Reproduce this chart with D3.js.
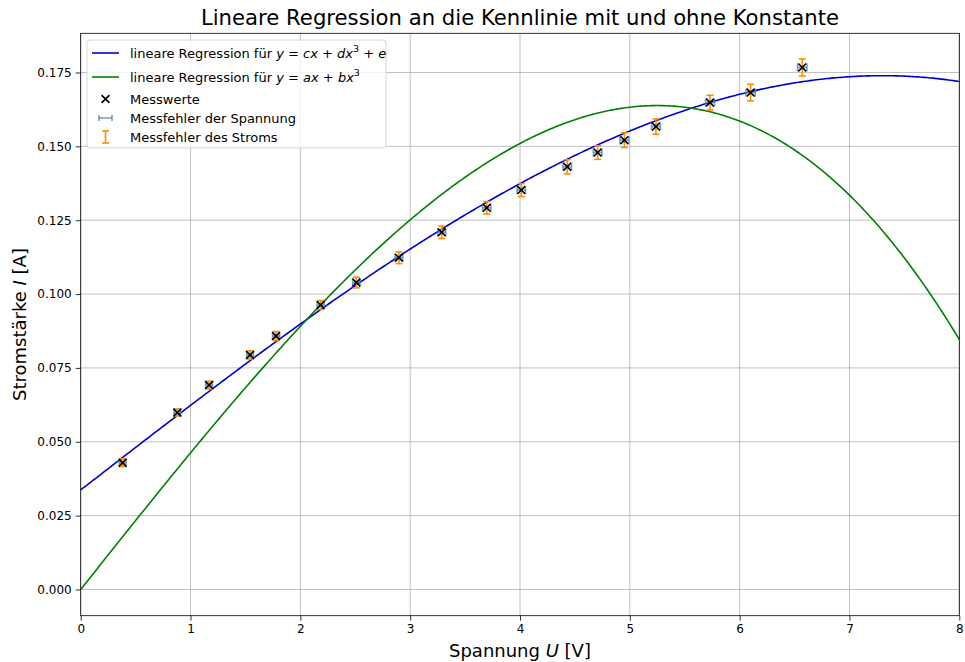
<!DOCTYPE html>
<meta charset="utf-8">
<style>
  body { margin: 0; background: #fff; }
  text { font-family: "DejaVu Sans", sans-serif; fill: #000; }
  .grid line { stroke: #b0b0b0; stroke-width: 0.8; }
</style>
<svg width="965" height="662"></svg>
<script src="https://d3js.org/d3.v7.min.js"></script>
<script>
// measured values: voltage U [V], current I [A], and their errors
var spannung = [0.382, 0.880, 1.169, 1.542, 1.779, 2.185, 2.510, 2.898, 3.287, 3.697,
                4.012, 4.430, 4.707, 4.950, 5.238, 5.730, 6.100, 6.570];
var strom    = [0.0429, 0.0599, 0.0692, 0.0794, 0.0858, 0.0963, 0.1039, 0.1123, 0.1209, 0.1292,
                0.1352, 0.1431, 0.1479, 0.1521, 0.1567, 0.1648, 0.1682, 0.1767];
var fehlerU  = [0.030, 0.030, 0.031, 0.032, 0.032, 0.033, 0.034, 0.035, 0.036, 0.037,
                0.038, 0.039, 0.039, 0.040, 0.040, 0.041, 0.042, 0.043];
var fehlerI  = [0.0013, 0.0012, 0.0013, 0.0014, 0.0015, 0.0015, 0.0018, 0.0020, 0.0021, 0.0021,
                0.0022, 0.0024, 0.0023, 0.0025, 0.0026, 0.0025, 0.0028, 0.0029];

// fit parameters
var fitMitKonstante = { c: 0.0288, d: -0.000180, e: 0.0337 };   // y = cx + dx^3 + e
var fitOhneKonstante = { a: 0.0468, b: -0.000566 };            // y = ax + bx^3

var xTicks = [0, 1, 2, 3, 4, 5, 6, 7, 8];
var yTicks = [0, 0.025, 0.05, 0.075, 0.1, 0.125, 0.15, 0.175];

var svg = d3.select("svg");
var pLeft = 80.7, pRight = 959.3, pTop = 33.3, pBottom = 615.7;

var x = d3.scaleLinear().domain([0, 8]).range([pLeft, pRight]);
var y = d3.scaleLinear().domain([-0.00887, 0.18826]).range([pBottom, pTop]);

// grid
var grid = svg.append("g").attr("class", "grid");
grid.selectAll(".gx").data(xTicks).enter().append("line")
    .attr("x1", d => x(d)).attr("x2", d => x(d)).attr("y1", pTop).attr("y2", pBottom);
grid.selectAll(".gy").data(yTicks).enter().append("line")
    .attr("y1", d => y(d)).attr("y2", d => y(d)).attr("x1", pLeft).attr("x2", pRight);

// axes
var xAxis = svg.append("g").attr("transform", "translate(0," + pBottom + ")")
    .call(d3.axisBottom(x).tickValues(xTicks).tickFormat(d3.format("d")).tickSizeOuter(0).tickSize(5).tickPadding(4));
var yAxis = svg.append("g").attr("transform", "translate(" + pLeft + ",0)")
    .call(d3.axisLeft(y).tickValues(yTicks).tickFormat(d3.format(".3f")).tickSizeOuter(0).tickSize(5).tickPadding(4));
[xAxis, yAxis].forEach(function(a) {
  a.attr("font-family", null).attr("font-size", null);
  a.selectAll("text").style("font-family", "DejaVu Sans").style("font-size", "12px");
  a.select(".domain").remove();
  a.selectAll("line").attr("stroke", "#000").attr("stroke-width", 0.8);
});

// curves
var xs = d3.range(0, 8.0001, 0.02);
var line = d3.line().x(d => x(d[0])).y(d => y(d[1]));
svg.append("clipPath").attr("id", "clip").append("rect")
    .attr("x", pLeft).attr("y", pTop).attr("width", pRight - pLeft).attr("height", pBottom - pTop);

svg.append("path")
    .datum(xs.map(v => [v, fitMitKonstante.c * v + fitMitKonstante.d * v * v * v + fitMitKonstante.e]))
    .attr("d", line).attr("fill", "none").attr("stroke", "#0000cd").attr("stroke-width", 1.6)
    .attr("clip-path", "url(#clip)");
svg.append("path")
    .datum(xs.map(v => [v, fitOhneKonstante.a * v + fitOhneKonstante.b * v * v * v]))
    .attr("d", line).attr("fill", "none").attr("stroke", "#008000").attr("stroke-width", 1.6)
    .attr("clip-path", "url(#clip)");

var punkte = spannung.map((u, i) => ({ u: u, i: strom[i], du: fehlerU[i], di: fehlerI[i] }));

// voltage error bars
var eu = svg.append("g").attr("stroke", "#4682b4").attr("stroke-opacity", 0.75).attr("stroke-width", 1.6);
punkte.forEach(function(p) {
  eu.append("line").attr("x1", x(p.u - p.du)).attr("x2", x(p.u + p.du)).attr("y1", y(p.i)).attr("y2", y(p.i));
  eu.append("line").attr("x1", x(p.u - p.du)).attr("x2", x(p.u - p.du)).attr("y1", y(p.i) - 4).attr("y2", y(p.i) + 4);
  eu.append("line").attr("x1", x(p.u + p.du)).attr("x2", x(p.u + p.du)).attr("y1", y(p.i) - 4).attr("y2", y(p.i) + 4);
});

// current error bars
var ei = svg.append("g").attr("stroke", "#ff8c00").attr("stroke-width", 1.6);
punkte.forEach(function(p) {
  ei.append("line").attr("x1", x(p.u)).attr("x2", x(p.u)).attr("y1", y(p.i - p.di)).attr("y2", y(p.i + p.di));
  ei.append("line").attr("x1", x(p.u) - 3.5).attr("x2", x(p.u) + 3.5).attr("y1", y(p.i - p.di)).attr("y2", y(p.i - p.di));
  ei.append("line").attr("x1", x(p.u) - 3.5).attr("x2", x(p.u) + 3.5).attr("y1", y(p.i + p.di)).attr("y2", y(p.i + p.di));
});

// markers
var kreuz = d3.symbol().type(d3.symbolX).size(42);
svg.append("g").selectAll("path").data(punkte).enter().append("path")
    .attr("d", kreuz)
    .attr("transform", d => "translate(" + x(d.u) + "," + y(d.i) + ")")
    .attr("fill", "none").attr("stroke", "#000").attr("stroke-width", 1.6);

// frame
svg.append("rect").attr("x", pLeft).attr("y", pTop).attr("width", pRight - pLeft).attr("height", pBottom - pTop)
    .attr("fill", "none").attr("stroke", "#000").attr("stroke-width", 0.8);

// title and labels
svg.append("text").attr("x", (pLeft + pRight) / 2).attr("y", 25).attr("text-anchor", "middle")
    .style("font-size", "21.2px").text("Lineare Regression an die Kennlinie mit und ohne Konstante");

var xl = svg.append("text").attr("x", (pLeft + pRight) / 2).attr("y", 657).attr("text-anchor", "middle")
    .style("font-size", "18px");
xl.append("tspan").text("Spannung ");
xl.append("tspan").style("font-style", "italic").text("U");
xl.append("tspan").text(" [V]");

var yl = svg.append("text").attr("transform", "translate(26," + (pTop + pBottom) / 2 + ") rotate(-90)")
    .attr("text-anchor", "middle").style("font-size", "18px");
yl.append("tspan").text("Stromstärke ");
yl.append("tspan").style("font-style", "italic").text("I");
yl.append("tspan").text(" [A]");

// legend
var lg = svg.append("g").attr("transform", "translate(87,40)");
lg.append("rect").attr("width", 299).attr("height", 108).attr("rx", 3)
    .attr("fill", "#fff").attr("fill-opacity", 0.8).attr("stroke", "#cccccc").attr("stroke-width", 0.8);

var rowsY = [13, 37, 59, 78, 97];
var tx = 43, fs = "13px";

function mathText(g, yy, parts) {
  var t = g.append("text").attr("x", tx).attr("y", yy + 4.5).style("font-size", fs);
  parts.forEach(function(p) {
    var s = t.append("tspan").text(p[0]);
    if (p[1] === "i") s.style("font-style", "italic");
    if (p[1] === "sup") s.attr("dy", -5.5).style("font-size", "9.5px");
    if (p[1] === "down") s.attr("dy", 5.5);
  });
}

lg.append("line").attr("x1", 5).attr("x2", 32).attr("y1", rowsY[0]).attr("y2", rowsY[0])
    .attr("stroke", "#0000cd").attr("stroke-width", 1.6);
mathText(lg, rowsY[0], [["lineare Regression für "], ["y", "i"], [" = "], ["cx", "i"], [" + "], ["dx", "i"], ["3", "sup"], [" + ", "down"], ["e", "i"]]);

lg.append("line").attr("x1", 5).attr("x2", 32).attr("y1", rowsY[1]).attr("y2", rowsY[1])
    .attr("stroke", "#008000").attr("stroke-width", 1.6);
mathText(lg, rowsY[1], [["lineare Regression für "], ["y", "i"], [" = "], ["ax", "i"], [" + "], ["bx", "i"], ["3", "sup"]]);

lg.append("path").attr("d", kreuz).attr("transform", "translate(18.5," + rowsY[2] + ")")
    .attr("fill", "none").attr("stroke", "#000").attr("stroke-width", 1.6);
mathText(lg, rowsY[2], [["Messwerte"]]);

var h = lg.append("g").attr("stroke", "#4682b4").attr("stroke-opacity", 0.75).attr("stroke-width", 1.6);
h.append("line").attr("x1", 12).attr("x2", 25).attr("y1", rowsY[3]).attr("y2", rowsY[3]);
h.append("line").attr("x1", 12).attr("x2", 12).attr("y1", rowsY[3] - 3).attr("y2", rowsY[3] + 3);
h.append("line").attr("x1", 25).attr("x2", 25).attr("y1", rowsY[3] - 3).attr("y2", rowsY[3] + 3);
mathText(lg, rowsY[3], [["Messfehler der Spannung"]]);

var v = lg.append("g").attr("stroke", "#ff8c00").attr("stroke-width", 1.6);
v.append("line").attr("x1", 18.5).attr("x2", 18.5).attr("y1", rowsY[4] - 6).attr("y2", rowsY[4] + 6);
v.append("line").attr("x1", 15).attr("x2", 22).attr("y1", rowsY[4] - 6).attr("y2", rowsY[4] - 6);
v.append("line").attr("x1", 15).attr("x2", 22).attr("y1", rowsY[4] + 6).attr("y2", rowsY[4] + 6);
mathText(lg, rowsY[4], [["Messfehler des Stroms"]]);
</script>
